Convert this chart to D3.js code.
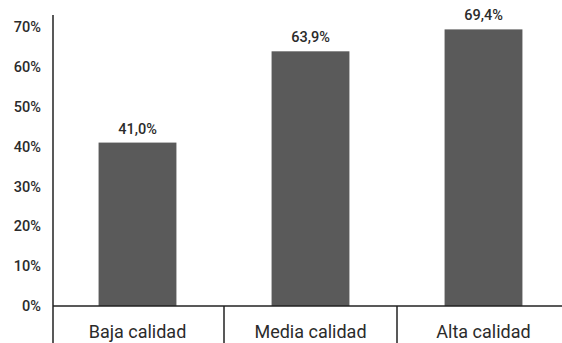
<!DOCTYPE html>
<html>
<head>
<meta charset="utf-8">
<script src="https://cdn.jsdelivr.net/npm/d3@7"></script>
<style>
  html, body { margin: 0; padding: 0; background: #fff; }
  svg { display: block; }
  text { font-family: Roboto, "DejaVu Sans", sans-serif; fill: #2b2b2b; font-weight: 500; }
</style>
</head>
<body>
<svg id="chart" width="562" height="343"></svg>
<script>
// Share of respondents by quality level
const categories = ["Baja calidad", "Media calidad", "Alta calidad"];
const values = [41.0, 63.9, 69.4];
const valueLabels = ["41,0%", "63,9%", "69,4%"];
const tickValues = [0, 10, 20, 30, 40, 50, 60, 70];
const tickLabels = ["0%", "10%", "20%", "30%", "40%", "50%", "60%", "70%"];

const svg = d3.select("#chart");
const W = 562, H = 343;
const axisX = 53, baseY = 306, topY = 27;

const x = d3.scaleBand()
  .domain(categories)
  .range([51, 570])
  .paddingInner(0.55)
  .paddingOuter(0.275);

const band = d3.scaleBand().domain(categories).range([51, 570]);

const y = d3.scaleLinear().domain([0, 70]).range([baseY, topY]);

// Bars
svg.append("g").selectAll("rect")
  .data(values)
  .join("rect")
  .attr("x", (d, i) => x(categories[i]))
  .attr("width", x.bandwidth())
  .attr("y", d => y(d))
  .attr("height", d => y(0) - y(d))
  .attr("fill", "#5a5a5a");

// Value labels
svg.append("g").selectAll("text")
  .data(values)
  .join("text")
  .attr("x", (d, i) => x(categories[i]) + x.bandwidth() / 2)
  .attr("y", d => y(d) - 9)
  .attr("text-anchor", "middle")
  .attr("font-size", 14.5)
  .text((d, i) => valueLabels[i]);

// Y axis labels
const yAxis = d3.axisLeft(y)
  .tickValues(tickValues)
  .tickFormat((d, i) => tickLabels[i])
  .tickSize(0)
  .tickPadding(12);
const gy = svg.append("g").attr("transform", `translate(${axisX},0)`).call(yAxis);
gy.select(".domain").remove();
gy.selectAll("text")
  .attr("font-size", 14.5)
  .style("font-family", "Roboto, sans-serif")
  .style("font-weight", 500)
  .attr("fill", "#2b2b2b");

// Axis frame: vertical line, baseline, category dividers
const lines = svg.append("g").attr("stroke", "#222").attr("stroke-width", 1.5);
lines.append("line").attr("x1", axisX).attr("x2", axisX).attr("y1", 15).attr("y2", H);
lines.append("line").attr("x1", axisX).attr("x2", W).attr("y1", baseY).attr("y2", baseY);
lines.selectAll(".div")
  .data(categories.slice(1))
  .join("line")
  .attr("x1", d => band(d)).attr("x2", d => band(d))
  .attr("y1", baseY).attr("y2", H);

// Category labels
svg.append("g").selectAll("text")
  .data(categories)
  .join("text")
  .attr("x", d => band(d) + band.bandwidth() / 2)
  .attr("y", 337.5)
  .attr("text-anchor", "middle")
  .attr("font-size", 18)
  .style("font-weight", 400)
  .text(d => d);
</script>
</body>
</html>
